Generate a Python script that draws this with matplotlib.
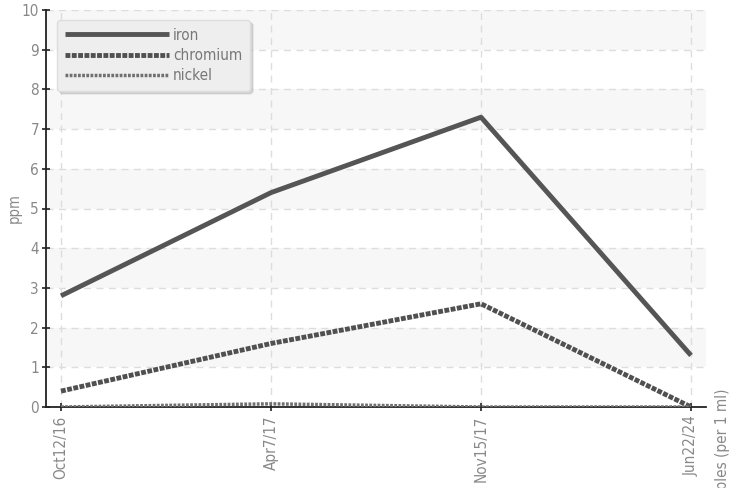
import numpy as np
import matplotlib.pyplot as plt

dates = ["Oct12/16", "Apr7/17", "Nov15/17", "Jun22/24"]
iron = [2.8, 5.4, 7.3, 1.3]
chromium = [0.4, 1.6, 2.6, 0.0]
nickel = [0.0, 0.08, 0.0, 0.0]

plt.rcParams["font.family"] = ["DejaVu Sans"]
plt.rcParams["font.stretch"] = "condensed"

fig = plt.figure(figsize=(7.33, 4.88), dpi=100)
ax = fig.add_axes([46 / 733, 1 - 407 / 488, 660 / 733, 397 / 488])

x = np.arange(len(dates))

# alternating bands
for y0 in range(1, 10, 2):
    ax.axhspan(y0, y0 + 1, color="#f7f7f7", zorder=0, lw=0)

ax.plot(x, iron, color="#555555", lw=3.5, label="iron", solid_capstyle="butt", zorder=3)
ax.plot(x, chromium, color="#505050", lw=3.5, dashes=(1.0, 0.3), label="chromium", zorder=3)
ax.plot(x, nickel, color="#707070", lw=2.5, dashes=(0.8, 0.4), label="nickel", zorder=3)

ax.set_xlim(-15 / 210, 3 + 15 / 210)
ax.set_ylim(0, 10)
ax.set_xticks(x)
ax.set_xticklabels(dates, rotation=90)
ax.set_yticks(range(0, 11))

ax.grid(True, color="#dddddd", linestyle=(0, (5, 4)), lw=1)
ax.set_axisbelow(True)

for s in ["top", "right"]:
    ax.spines[s].set_visible(False)
ax.spines["left"].set_color("#222222")
ax.spines["bottom"].set_color("#222222")
ax.spines["left"].set_linewidth(1.3)
ax.spines["bottom"].set_linewidth(1.3)

ax.tick_params(axis="both", direction="inout", length=6, width=1.2, color="#222222",
               labelcolor="#888888", labelsize=11)
ax.tick_params(axis="y", pad=2)
ax.tick_params(axis="x", pad=3)

ax.set_ylabel("ppm", color="#888888", fontsize=10.5, labelpad=0)

leg = ax.legend(loc="upper left", bbox_to_anchor=(0.0167, 0.975), fontsize=11, handlelength=6.8,
                handletextpad=0.3, labelspacing=0.35, fancybox=True,
                shadow={"color": "0.75", "alpha": 0.6},
                framealpha=1, borderpad=0.5, borderaxespad=0)
leg.get_frame().set_facecolor("#eeeeee")
leg.get_frame().set_edgecolor("#dddddd")
for t in leg.get_texts():
    t.set_color("#777777")

fig.text(722 / 733, 1 - 388 / 488, "Samples (per 1 ml)", rotation=90, ha="center", va="top",
         color="#888888", fontsize=11)

fig.savefig("out.png", dpi=100)
